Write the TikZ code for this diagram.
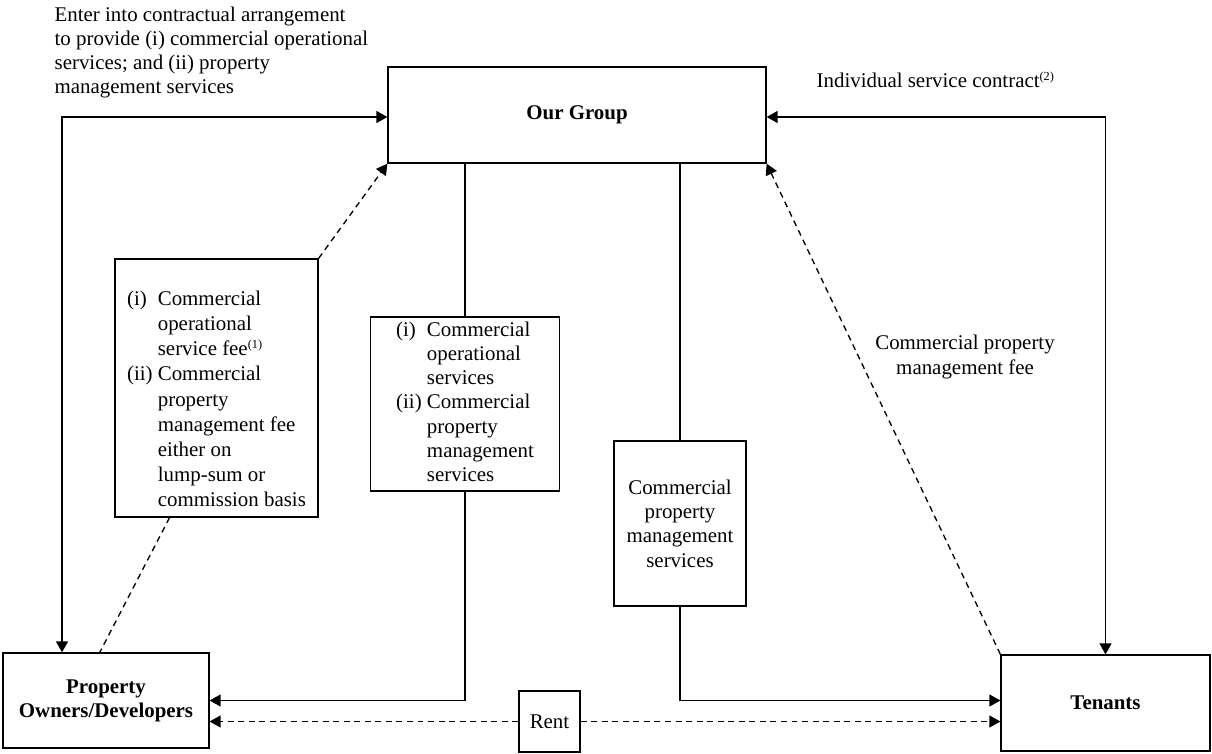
\documentclass[tikz,border=0pt]{standalone}
\usepackage{fontspec}
\setmainfont{Liberation Serif}
\usepackage{tikz}
\usetikzlibrary{arrows.meta,calc}

\newcommand{\fnmark}[1]{\textsuperscript{\fontsize{7}{8}\selectfont(#1)}}

\tikzset{
  box/.style={draw, inner sep=0pt, align=center},
  fwd/.style={-{Triangle[length=0.22cm,width=0.24cm]}},
  twoway/.style={{Triangle[length=0.22cm,width=0.24cm]}-{Triangle[length=0.22cm,width=0.24cm]}},
  dashline/.style={dash pattern=on 3.4pt off 2.6pt}
}

\begin{document}
\begin{tikzpicture}[x=0.02cm,y=-0.02cm,line width=0.75pt,font=\fontsize{11.9}{13.8}\selectfont]
\useasboundingbox (0,0) rectangle (1212,753);

\node (og) [box, minimum width=7.56cm, minimum height=1.92cm] at (577,115) {\textbf{Our Group}};
\node (po) [box, minimum width=4.12cm, minimum height=1.9cm] at (106,700.5) {\textbf{Property}\\\textbf{Owners/Developers}};
\node (ten) [box, minimum width=4.18cm, minimum height=1.92cm] at (1105.5,703) {\textbf{Tenants}};
\node (feebox) [box, minimum width=4.06cm, minimum height=5.16cm] at (216.5,388) {};
\node (feetext) [font=\fontsize{11.9}{14.3}\selectfont] at (216.5,401) {\begin{tabular}{@{}l@{ }l@{}}
(i) & Commercial\\ & operational\\ & service fee\fnmark{1}\\
(ii) & Commercial\\ & property\\ & management fee\\ & either on\\ & lump-sum or\\ & commission basis
\end{tabular}};
\node (midbox) [box, minimum width=3.78cm, minimum height=3.48cm] at (465,404) {\begin{tabular}{@{}l@{ }l@{}}
(i) & Commercial\\ & operational\\ & services\\
(ii) & Commercial\\ & property\\ & management\\ & services
\end{tabular}};
\node (rbox) [box, minimum width=2.64cm, minimum height=3.3cm] at (680,523.5) {Commercial\\property\\management\\services};
\node (rent) [box, minimum width=1.22cm, minimum height=1.22cm] at (549.5,721.5) {Rent};

\node (deal) [anchor=north west, inner sep=0pt, align=left] at (54,6) {Enter into contractual arrangement\\to provide (i) commercial operational\\services; and (ii) property\\management services};
\node (contract) [anchor=west, inner sep=0pt] at (816,80) {Individual service contract\fnmark{2}};
\node (mgmtfee) [align=center] at (965,357) {Commercial property\\management fee};

\coordinate (lc) at (62,117);
\coordinate (rc) at (1105.5,117);
\draw[twoway] (po.north -| lc) -- (lc) -- (og.west |- lc);
\draw[twoway] (og.east |- rc) -- (rc) -- (ten.north);
\draw (og.south -| midbox) -- (midbox.north);
\draw[fwd] (midbox.south) |- (po.east);
\draw (og.south -| rbox) -- (rbox.north);
\draw[fwd] (rbox.south) |- (ten.west |- po.east);
\draw[fwd, dashline] (rent.west) -- (po.east |- rent);
\draw[fwd, dashline] (rent.east) -- (ten.west |- rent);
\draw[fwd, dashline] (feebox.north east) -- (og.south west);
\draw[dashline] ($(feebox.south west)!0.27!(feebox.south east)$) -- ($(po.north west)!0.47!(po.north east)$);
\draw[fwd, dashline] (ten.north west) -- (og.south east);
\end{tikzpicture}
\end{document}
